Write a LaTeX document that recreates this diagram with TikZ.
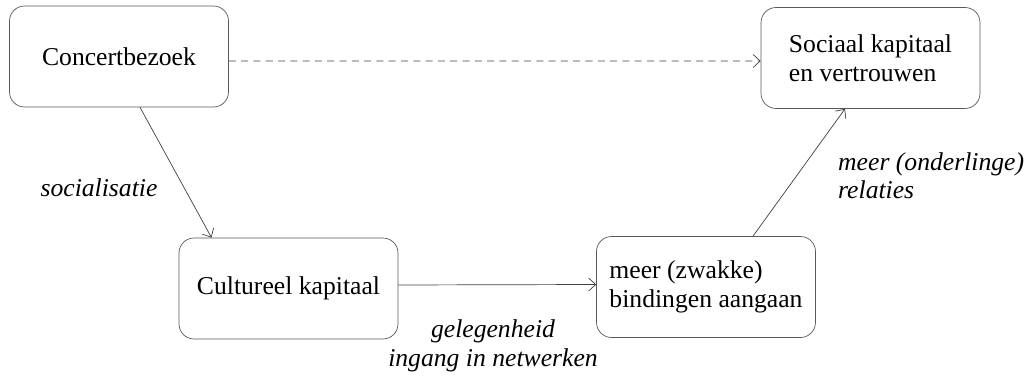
\documentclass[tikz,border=0pt]{standalone}
\usepackage{fontspec}
\setmainfont{Liberation Serif}
\usetikzlibrary{calc,arrows.meta}

\tikzset{
	blok/.style={draw=black!65, rounded corners=0.3cm, minimum width=4.38cm, minimum height=2.02cm, font=\fontsize{14.6}{16.6}\selectfont},
	pijl/.style={-{Straight Barb[length=1.4mm,width=2.6mm]}, draw=black!75, thin},
	uitleg/.style={font=\fontsize{14.6}{16.2}\selectfont\itshape}
}

\begin{document}
\begin{tikzpicture}[x=0.02cm, y=-0.02cm]
		\useasboundingbox (0,0) rectangle (1025,378);

		\node[blok] (con) at (119,56.5) {Concertbezoek};
		\node[blok, align=left] (soc) at (870.5,58) {Sociaal kapitaal\\en vertrouwen};
		\node[blok] (cul) at (288.5,288.5) {Cultureel kapitaal};
		\node[blok, align=left] (bin) at (706,287) {meer (zwakke)\\bindingen aangaan};

		\draw[pijl, dash pattern=on 4pt off 3pt] ([yshift=-0.09cm]con.east) -- ([yshift=-0.06cm]soc.west);
		\draw[pijl] ([xshift=0.42cm]con.south) -- ([xshift=-1.54cm]cul.north);
		\draw[pijl] ([yshift=0.07cm]cul.east) -- ([yshift=0.05cm]bin.west);
		\draw[pijl] ([xshift=0.94cm]bin.north) -- ([xshift=-0.51cm]soc.south);

		\node[uitleg] (soclab) at (99,188) {socialisatie};
		\node[uitleg, align=center] (gellab) at (493,346) {gelegenheid\\ingang in netwerken};
		\node[uitleg, align=left, anchor=west] (rellab) at (832,176) {meer (onderlinge)\\relaties};

	\end{tikzpicture}
\end{document}
